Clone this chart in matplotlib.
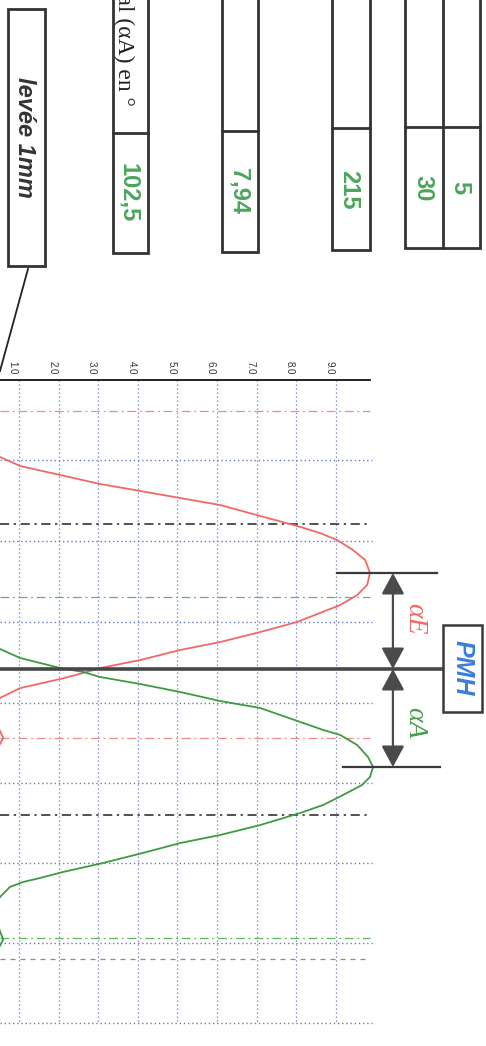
import numpy as np
import matplotlib
matplotlib.use("Agg")
import matplotlib.pyplot as plt
from matplotlib.patches import Rectangle, FancyArrowPatch
from matplotlib.transforms import Affine2D

# ---------------- data (lift in mm, crank angle in degrees, PMH = 0) ----------------
exh_lift = [0.30, 0.52, 1.03, 2.04, 3.05, 4.06, 5.07, 6.08, 7.09, 8.02, 8.60, 9.03, 9.43,
            9.74, 9.86, 9.79, 9.54, 9.11, 8.60, 8.02, 7.09, 6.08, 5.07, 4.06, 3.05, 2.62,
            2.04, 1.03, 0.52, 0.30, 0.60, 0.50]
exh_angle = [-232.0, -221.7, -212.3, -202.9, -193.5, -186.2, -178.8, -171.5, -160.0, -149.6,
             -142.2, -134.9, -124.5, -114.0, -100.4, -87.9, -77.4, -66.9, -58.6, -49.2,
             -38.7, -28.2, -19.9, -9.4, -1.0, 4.2, 10.5, 19.9, 30.3, 45.0, 72.0, 80.0]

int_lift = [0.30, 0.52, 1.03, 2.04, 2.62, 3.05, 4.06, 5.07, 6.08, 7.09, 8.10, 8.68, 9.11,
            9.54, 9.81, 9.94, 9.86, 9.66, 9.18, 8.68, 8.10, 7.09, 6.08, 5.07, 4.13, 3.12,
            2.11, 1.53, 1.10, 0.77, 0.52, 0.30, 0.60, 0.50]
int_angle = [-30.0, -20.9, -11.5, -1.0, 3.1, 8.4, 15.7, 24.1, 33.5, 40.8, 55.4, 63.8, 69.0,
             79.5, 92.0, 102.5, 113.0, 121.3, 131.8, 142.2, 150.6, 163.2, 173.6, 182.0,
             192.4, 202.9, 212.3, 218.6, 222.8, 228.0, 238.5, 250.0, 283.0, 291.0]

grid_lifts = [1, 2, 3, 4, 5, 6, 7, 8, 9]
tick_labels = ["1.0", "2.0", "3.0", "4.0", "5.0", "6.0", "7.0", "8.0", "9.0"]
grid_angles = [-302.3, -218.6, -133.9, -49.2, 35.6, 119.2, 202.9, 286.5, 370.2]

exh_marks = [-269.8, 72.2]      # pink dash-dot
int_marks = [-75.3, 281.3]      # green dash-dot
black_marks = [-151.7, 152.7]   # black dash-dot
gray_marks = [303.3]            # gray dashed

lift_label = "levée 1mm"
angle_label = "Angle total (αA) en °"
table_values = ["102,5", "7,94", "215", "30", "5"]
label_E = "αE"
label_A = "αA"
label_pmh = "PMH"

# ---------------- colours ----------------
RED = "#f06868"
GREEN = "#3f9a42"
TXT_GREEN = "#4aa55a"
BLUE_GRID = "#6577d8"
DARK = "#3a3a3a"

W, H = 486, 1046
fig = plt.figure(figsize=(W / 100, H / 100), dpi=100)
fig.patch.set_facecolor("white")
ax = fig.add_axes([0, 0, 1, 1])
ax.axis("off")
ax.set_xlim(0.52, 12.79)
ax.set_ylim(394.3, -699.7)

# pixel transform for the table / annotations (x right, y down)
T = Affine2D().scale(1, -1).translate(0, H)

x_end = 9.85
# grid
for g in grid_lifts:
    ax.plot([g, g], [grid_angles[0], grid_angles[-1]], color=BLUE_GRID, lw=0.9,
            ls=(0, (1, 2.2)), zorder=1)
for a in grid_angles[1:]:
    ax.plot([0.52, 9.92], [a, a], color=BLUE_GRID, lw=1.0, ls=(0, (1, 2.0)), zorder=1)

# reference dash-dot lines
for a in exh_marks:
    ax.plot([0.52, x_end], [a, a], color="#f08a8a", lw=0.9, ls=(0, (7, 3, 1.5, 3)), zorder=2)
for a in int_marks:
    ax.plot([0.52, x_end], [a, a], color="#5cb85c", lw=0.9, ls=(0, (7, 3, 1.5, 3)), zorder=2)
for a in black_marks:
    ax.plot([0.52, x_end], [a, a], color="#222222", lw=1.1, ls=(0, (6, 3, 1.5, 3)), zorder=2)
for a in gray_marks:
    ax.plot([0.52, x_end], [a, a], color="#8a8a8a", lw=0.9, ls=(0, (4, 4)), zorder=2)

# top axis line and tick labels
ax.plot([0.52, x_end], [grid_angles[0], grid_angles[0]], color="#111111", lw=1.3, zorder=3)
for g, lab in zip(grid_lifts, tick_labels):
    ax.text(g - 0.16, grid_angles[0] - 13, lab, rotation=-90, ha="center", va="center",
            fontsize=7, family=["Liberation Sans", "DejaVu Sans"], color="#333333")

# curves
ax.plot(exh_lift, exh_angle, color=RED, lw=1.3, zorder=4, solid_joinstyle="round")
ax.plot(int_lift, int_angle, color=GREEN, lw=1.3, zorder=4, solid_joinstyle="round")

# PMH line, peaks and arrows
peak_E = exh_angle[int(np.argmax(exh_lift))]
peak_A = int_angle[int(np.argmax(int_lift))]
ax.plot([0.52, 11.71], [0, 0], color="#474747", lw=2.6, zorder=5, solid_capstyle="butt")
ax.plot([9.03, 11.56], [peak_E, peak_E], color=DARK, lw=1.6, zorder=5)
ax.plot([9.18, 11.63], [peak_A, peak_A], color=DARK, lw=1.6, zorder=5)
xa = 10.44
for a0, a1 in [(peak_E, 0), (0, peak_A)]:
    arr = FancyArrowPatch((xa, a0), (xa, a1),
                          arrowstyle="<|-|>,head_length=13,head_width=7",
                          mutation_scale=1, color="#4a4a4a", lw=1.6,
                          shrinkA=0, shrinkB=0, zorder=6)
    ax.add_patch(arr)

ax.text(11.0, peak_E / 2 - 2, label_E, rotation=-90, ha="center", va="center",
        fontsize=20, style="italic", color=RED,
        family=["Liberation Serif", "DejaVu Serif"])
ax.text(11.0, peak_A / 2 + 5, label_A, rotation=-90, ha="center", va="center",
        fontsize=20, style="italic", color="#4a9e4e",
        family=["Liberation Serif", "DejaVu Serif"])

# PMH box
ax.add_patch(Rectangle((11.71, -46), 0.99, 91, fill=False, ec=DARK, lw=1.8, zorder=6))
ax.text(12.20, -1, label_pmh, rotation=-90, ha="center", va="center", fontsize=18,
        weight="bold", style="italic", color="#3b7dd8",
        family=["Liberation Sans", "DejaVu Sans"])

# ---------------- table at top (pixel layout) ----------------
def box(x0, y0, x1, y1, lw=2.0):
    fig.add_artist(Rectangle((x0, y0), x1 - x0, y1 - y0, transform=T, fill=False,
                             ec="#333333", lw=lw))

def hline(x0, x1, y, lw=2.0):
    fig.add_artist(plt.Line2D([x0, x1], [y, y], transform=T, color="#333333", lw=lw))

def vline(x, y0, y1, lw=2.0):
    fig.add_artist(plt.Line2D([x, x], [y0, y1], transform=T, color="#333333", lw=lw))

sans = ["Liberation Sans", "DejaVu Sans"]

# "levée 1mm" box with leader line
box(8, 9, 45, 266)
fig.text(24, 137, lift_label, transform=T, rotation=-90, ha="center", va="center",
         fontsize=17, weight="bold", style="italic", family=sans, color="#333333")
fig.add_artist(plt.Line2D([28, 0], [269, 371], transform=T, color="#222222", lw=1.3))

# column 1: angle label / 102,5
box(113, -5, 148, 253)
hline(113, 148, 133)
fig.text(124, 106, angle_label, transform=T, rotation=-90, rotation_mode="anchor",
         ha="right", va="center", fontsize=17,
         family=["Liberation Serif", "DejaVu Serif"], color="#222222")
fig.text(129, 193, table_values[0], transform=T, rotation=-90, ha="center", va="center",
         fontsize=17, weight="bold", family=sans, color=TXT_GREEN)

# column 2: 7,94
box(222, -5, 258, 252)
hline(222, 258, 131)
fig.text(239, 191, table_values[1], transform=T, rotation=-90, ha="center", va="center",
         fontsize=17, weight="bold", family=sans, color=TXT_GREEN)

# column 3: 215
box(332, -5, 370, 250)
hline(332, 370, 128)
fig.text(349, 190, table_values[2], transform=T, rotation=-90, ha="center", va="center",
         fontsize=17, weight="bold", family=sans, color=TXT_GREEN)

# column 4: 30 | 5
box(405, -5, 480, 248)
hline(405, 480, 127)
vline(443, -5, 248)
fig.text(423, 188, table_values[3], transform=T, rotation=-90, ha="center", va="center",
         fontsize=17, weight="bold", family=sans, color=TXT_GREEN)
fig.text(460, 188, table_values[4], transform=T, rotation=-90, ha="center", va="center",
         fontsize=17, weight="bold", family=sans, color=TXT_GREEN)

fig.savefig("out.png", dpi=100, facecolor="white")
